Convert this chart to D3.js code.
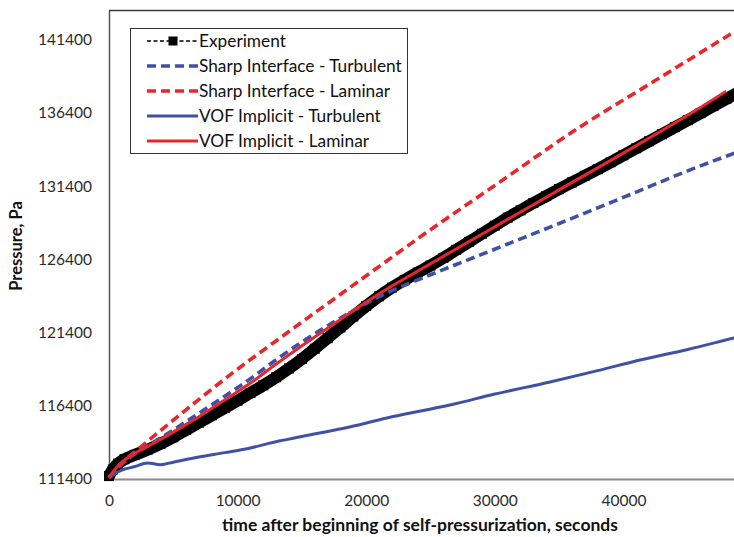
<!DOCTYPE html>
<html>
<head>
<meta charset="utf-8">
<script src="https://cdn.jsdelivr.net/npm/d3@7"></script>
<style>
  html, body { margin: 0; padding: 0; background: #fff; overflow: hidden; }
  svg { display: block; }
  text { font-family: Lato, "Open Sans", sans-serif; }
</style>
</head>
<body>
<svg id="chart" width="734" height="537"></svg>
<script>
// ---------- data ----------
const xTicks = [0, 10000, 20000, 30000, 40000];
const yTicks = [111400, 116400, 121400, 126400, 131400, 136400, 141400];

const expTime = [0, 300, 700, 1200, 2000, 3000, 4000, 5000, 6000, 7000, 8000, 9000, 10000, 11000, 12000, 13000,
  14000, 15000, 16000, 17000, 18000, 19000, 20000, 21000, 22000, 23000, 24000, 25000, 26000, 27000, 28000,
  29000, 30000, 31000, 32000, 33000, 34000, 35000, 36000, 37000, 38000, 39000, 40000, 41000, 42000, 43000,
  44000, 45000, 46000, 47000, 48000, 49000, 50000];
const expPressure = [111600, 112050, 112450, 112750, 113050, 113400, 113800, 114250, 114750, 115250, 115750,
  116250, 116750, 117280, 117800, 118350, 118950, 119600, 120300, 121020, 121750, 122500, 123220, 123880,
  124470, 125000, 125500, 125980, 126500, 127050, 127600, 128150, 128700, 129250, 129750, 130250, 130720,
  131200, 131660, 132110, 132560, 133030, 133510, 133990, 134470, 134950, 135430, 135910, 136390, 136870,
  137360, 137840, 138320];

const sharpTurbTime = [0, 500, 1000, 2000, 3000, 4000, 5000, 7000, 9000, 11000, 13000, 15000, 18000, 21000,
  25000, 28000, 31000, 35000, 38000, 41000, 45000, 48000, 50000];
const sharpTurbPressure = [111500, 111950, 112400, 113100, 113650, 114200, 114750, 115900, 117050, 118250,
  119550, 120750, 122400, 123850, 125350, 126400, 127450, 128850, 129920, 131000, 132450, 133450, 134100];

const sharpLamTime = [0, 1000, 2000, 3000, 5000, 7000, 9000, 11000, 12500, 16000, 20000, 25000, 30000,
  36600, 42000, 48600, 50000];
const sharpLamPressure = [111500, 112500, 113250, 113980, 115420, 116840, 118230, 119560, 120520, 122750,
  125280, 128430, 131450, 135430, 138360, 141930, 142680];

const vofTurbTime = [0, 500, 1000, 2000, 3000, 4000, 5000, 7000, 9000, 11000, 12500, 15000, 18700, 22000,
  26500, 30000, 34300, 38000, 41300, 45000, 48600, 50000];
const vofTurbPressure = [111450, 111800, 112000, 112250, 112500, 112380, 112550, 112900, 113200, 113520,
  113850, 114300, 114950, 115650, 116450, 117200, 118030, 118800, 119530, 120250, 121030, 121330];

const vofLamTime = [0, 500, 1000, 2000, 3000, 4000, 5000, 7000, 9000, 11000, 13000, 15000, 18000, 21000,
  25000, 28000, 31000, 35000, 38000, 41000, 44000, 46000, 48000];
const vofLamPressure = [111500, 112100, 112550, 113150, 113620, 114100, 114600, 115650, 116800, 117950,
  119250, 120500, 122300, 124050, 126100, 127620, 129130, 131150, 132650, 134170, 135720, 136780, 137880];

const seriesNames = ["Experiment", "Sharp Interface - Turbulent", "Sharp Interface - Laminar",
  "VOF Implicit - Turbulent", "VOF Implicit - Laminar"];

// ---------- build ----------
const zip = (t, p) => t.map((d, i) => ({ t: d, p: p[i] }));
const BLUE = "#3f51a6", RED = "#e8262c";

const series = [
  { name: seriesNames[0], data: zip(expTime, expPressure), color: "#000", kind: "exp" },
  { name: seriesNames[1], data: zip(sharpTurbTime, sharpTurbPressure), color: BLUE, kind: "dash" },
  { name: seriesNames[2], data: zip(sharpLamTime, sharpLamPressure), color: RED, kind: "dash" },
  { name: seriesNames[3], data: zip(vofTurbTime, vofTurbPressure), color: BLUE, kind: "solid" },
  { name: seriesNames[4], data: zip(vofLamTime, vofLamPressure), color: RED, kind: "solid" }
];

const svg = d3.select("#chart");
const plotLeft = 109, plotTop = 10.5, plotBottom = 479;
const x = d3.scaleLinear().domain([0, 50000]).range([plotLeft, plotLeft + 643]);
const y = d3.scaleLinear().domain([111400, 143400]).range([plotBottom, plotTop]);

// frame
svg.append("line").attr("x1", plotLeft).attr("x2", 740).attr("y1", plotTop).attr("y2", plotTop)
  .attr("stroke", "#3a3a3a").attr("stroke-width", 1.5);

// axes
const yAxis = svg.append("g").attr("transform", `translate(${plotLeft},0)`)
  .call(d3.axisLeft(y).tickValues(yTicks).tickSize(0).tickPadding(17).tickFormat(d3.format("d")));
yAxis.select(".domain").attr("stroke", "#555").attr("stroke-width", 1.5);
yAxis.selectAll("text").attr("font-size", "15.5px").attr("fill", "#2b2b2b")
  .attr("font-family", "Lato, sans-serif");

const xAxis = svg.append("g").attr("transform", `translate(0,${plotBottom})`)
  .call(d3.axisBottom(x).tickValues(xTicks).tickSize(0).tickPadding(16).tickFormat(d3.format("d")));
xAxis.select(".domain").attr("stroke", "#8a8a8a").attr("stroke-width", 2);
xAxis.selectAll("text").attr("font-size", "15.5px").attr("fill", "#2b2b2b")
  .attr("font-family", "Lato, sans-serif");

// axis titles
svg.append("text").attr("x", 420).attr("y", 531).attr("text-anchor", "middle")
  .attr("font-size", "17.5px").attr("font-weight", "bold").attr("fill", "#111")
  .text("time after beginning of self-pressurization, seconds");
svg.append("text").attr("transform", "translate(22,246) rotate(-90)").attr("text-anchor", "middle")
  .attr("font-size", "16.5px").attr("font-weight", "bold").attr("fill", "#111")
  .text("Pressure, Pa");

// lines
const line = d3.line().x(d => x(d.t)).y(d => y(d.p)).curve(d3.curveMonotoneX);
const plot = svg.append("g");

series.forEach(s => {
  if (s.kind === "exp") {
    plot.append("path").datum(s.data).attr("d", line).attr("fill", "none")
      .attr("stroke", "#000").attr("stroke-width", 12).attr("stroke-linejoin", "round");
    plot.selectAll("rect.exp").data(s.data).enter().append("rect").attr("class", "exp")
      .attr("x", d => x(d.t) - 5).attr("y", d => y(d.p) - 5).attr("width", 10).attr("height", 10)
      .attr("fill", "#000");
  } else {
    plot.append("path").datum(s.data).attr("d", line).attr("fill", "none")
      .attr("stroke", s.color).attr("stroke-width", s.kind === "dash" ? 3.6 : 3)
      .attr("stroke-dasharray", s.kind === "dash" ? "9,5" : null);
  }
});

// legend
const lg = svg.append("g");
lg.append("rect").attr("x", 130.5).attr("y", 28.5).attr("width", 277).attr("height", 125)
  .attr("fill", "#fff").attr("stroke", "#333").attr("stroke-width", 1);
series.forEach((s, i) => {
  const yy = 41 + i * 25;
  const g = lg.append("g");
  if (s.kind === "exp") {
    g.append("line").attr("x1", 147).attr("x2", 198).attr("y1", yy).attr("y2", yy)
      .attr("stroke", "#000").attr("stroke-width", 1.5).attr("stroke-dasharray", "4,2.5");
    g.append("rect").attr("x", 168.5).attr("y", yy - 4.5).attr("width", 9).attr("height", 9).attr("fill", "#000");
  } else {
    g.append("line").attr("x1", 147).attr("x2", 198).attr("y1", yy).attr("y2", yy)
      .attr("stroke", s.color).attr("stroke-width", s.kind === "dash" ? 3.6 : 3)
      .attr("stroke-dasharray", s.kind === "dash" ? "9,5" : null);
  }
  g.append("text").attr("x", 199).attr("y", yy + 6).attr("font-size", "17.3px").attr("fill", "#111")
    .text(s.name);
});
</script>
</body>
</html>
